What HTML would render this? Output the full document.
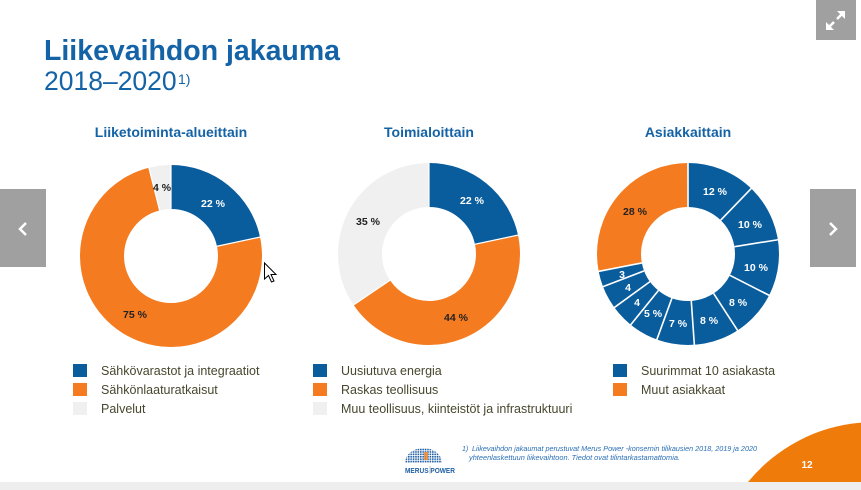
<!DOCTYPE html>
<html><head><meta charset="utf-8"><style>
html,body{margin:0;padding:0;background:#fff;width:861px;height:490px;overflow:hidden;}
svg{display:block;overflow:hidden;font-family:"Liberation Sans",Arial,sans-serif;}
</style></head><body>
<svg width="861" height="490" viewBox="0 0 861 490" xmlns="http://www.w3.org/2000/svg">
<defs>
<pattern id="dots" width="2.4" height="2.4" patternUnits="userSpaceOnUse"><rect width="1.6" height="1.6" fill="#1f5fa3"/></pattern>
<clipPath id="pg"><rect x="0" y="0" width="861" height="490"/></clipPath>
</defs>
<g clip-path="url(#pg)">
<rect width="861" height="490" fill="#fff"/>

<!-- Title -->
<text x="44" y="60" font-size="29" font-weight="bold" fill="#1463a6" textLength="296" lengthAdjust="spacingAndGlyphs">Liikevaihdon jakauma</text>
<text x="44" y="90" font-size="26.5" fill="#1463a6">2018–2020</text>
<text x="178" y="84" font-size="14" fill="#1463a6">1)</text>

<!-- Subtitles -->
<g font-size="14" font-weight="bold" fill="#1463a6" text-anchor="middle">
<text x="171" y="137">Liiketoiminta-alueittain</text>
<text x="429" y="137">Toimialoittain</text>
<text x="688" y="137">Asiakkaittain</text>
</g>

<!-- Left donut -->
<g fill="none" stroke-width="44">
<circle cx="171" cy="256" r="69" pathLength="360" transform="rotate(-90 171 256)" stroke="#0a5d9d" stroke-dasharray="78 360" stroke-dashoffset="0"/>
<circle cx="171" cy="256" r="69" pathLength="360" transform="rotate(-90 171 256)" stroke="#f47b20" stroke-dasharray="268 360" stroke-dashoffset="-78"/>
<circle cx="171" cy="256" r="69" pathLength="360" transform="rotate(-90 171 256)" stroke="#f0f0f0" stroke-dasharray="14 360" stroke-dashoffset="-346"/>
</g>
<g stroke="#fff" stroke-width="1.2">
<line x1="171" y1="209" x2="171" y2="164" transform="rotate(0 171 256)"/>
<line x1="171" y1="209" x2="171" y2="164" transform="rotate(78 171 256)"/>
<line x1="171" y1="209" x2="171" y2="164" transform="rotate(346 171 256)"/>
</g>
<g font-size="10.5" font-weight="bold" text-anchor="middle">
<text x="213" y="207" fill="#fff">22 %</text>
<text x="162" y="191" fill="#222">4 %</text>
<text x="135" y="318" fill="#222">75 %</text>
</g>

<!-- Middle donut -->
<g fill="none" stroke-width="44">
<circle cx="429" cy="254" r="69" pathLength="360" transform="rotate(-90 429 254)" stroke="#0a5d9d" stroke-dasharray="78 360" stroke-dashoffset="0"/>
<circle cx="429" cy="254" r="69" pathLength="360" transform="rotate(-90 429 254)" stroke="#f47b20" stroke-dasharray="158 360" stroke-dashoffset="-78"/>
<circle cx="429" cy="254" r="69" pathLength="360" transform="rotate(-90 429 254)" stroke="#f0f0f0" stroke-dasharray="124 360" stroke-dashoffset="-236"/>
</g>
<g stroke="#fff" stroke-width="1.2">
<line x1="429" y1="207" x2="429" y2="162" transform="rotate(0 429 254)"/>
<line x1="429" y1="207" x2="429" y2="162" transform="rotate(78 429 254)"/>
<line x1="429" y1="207" x2="429" y2="162" transform="rotate(236 429 254)"/>
</g>
<g font-size="10.5" font-weight="bold" text-anchor="middle">
<text x="472" y="204" fill="#fff">22 %</text>
<text x="368" y="225" fill="#222">35 %</text>
<text x="456" y="321" fill="#222">44 %</text>
</g>

<!-- Right donut -->
<g fill="none" stroke-width="44">
<circle cx="688" cy="254" r="69" pathLength="360" transform="rotate(-90 688 254)" stroke="#0a5d9d" stroke-dasharray="259 360" stroke-dashoffset="0"/>
<circle cx="688" cy="254" r="69" pathLength="360" transform="rotate(-90 688 254)" stroke="#f47b20" stroke-dasharray="101 360" stroke-dashoffset="-259"/>
</g>
<g stroke="#fff" stroke-width="1.6">
<line x1="688" y1="207" x2="688" y2="162" transform="rotate(0 688 254)"/>
<line x1="688" y1="207" x2="688" y2="162" transform="rotate(44 688 254)"/>
<line x1="688" y1="207" x2="688" y2="162" transform="rotate(81 688 254)"/>
<line x1="688" y1="207" x2="688" y2="162" transform="rotate(117 688 254)"/>
<line x1="688" y1="207" x2="688" y2="162" transform="rotate(147 688 254)"/>
<line x1="688" y1="207" x2="688" y2="162" transform="rotate(176 688 254)"/>
<line x1="688" y1="207" x2="688" y2="162" transform="rotate(200 688 254)"/>
<line x1="688" y1="207" x2="688" y2="162" transform="rotate(219 688 254)"/>
<line x1="688" y1="207" x2="688" y2="162" transform="rotate(234 688 254)"/>
<line x1="688" y1="207" x2="688" y2="162" transform="rotate(249 688 254)"/>
<line x1="688" y1="207" x2="688" y2="162" transform="rotate(259 688 254)"/>
</g>
<g font-size="10.5" font-weight="bold" text-anchor="middle" fill="#fff">
<text x="715" y="195">12 %</text>
<text x="750" y="228">10 %</text>
<text x="756" y="271">10 %</text>
<text x="738" y="306">8 %</text>
<text x="709" y="324">8 %</text>
<text x="678" y="327">7 %</text>
<text x="653" y="317">5 %</text>
<text x="637" y="306">4</text>
<text x="628" y="291">4</text>
<text x="622" y="278">3</text>
<text x="635" y="215" fill="#222">28 %</text>
</g>

<!-- Legends -->
<g font-size="12.5" fill="#47472f">
<rect x="73" y="364" width="14" height="13" fill="#0a5d9d"/>
<rect x="73" y="383" width="14" height="13" fill="#f47b20"/>
<rect x="73" y="402" width="14" height="13" fill="#f0f0f0"/>
<text x="101" y="375">Sähkövarastot ja integraatiot</text>
<text x="101" y="394">Sähkönlaaturatkaisut</text>
<text x="101" y="413">Palvelut</text>

<rect x="313" y="364" width="14" height="13" fill="#0a5d9d"/>
<rect x="313" y="383" width="14" height="13" fill="#f47b20"/>
<rect x="313" y="402" width="14" height="13" fill="#f0f0f0"/>
<text x="341" y="375">Uusiutuva energia</text>
<text x="341" y="394">Raskas teollisuus</text>
<text x="341" y="413">Muu teollisuus, kiinteistöt ja infrastruktuuri</text>

<rect x="613" y="364" width="14" height="13" fill="#0a5d9d"/>
<rect x="613" y="383" width="14" height="13" fill="#f47b20"/>
<text x="641" y="375">Suurimmat 10 asiakasta</text>
<text x="641" y="394">Muut asiakkaat</text>
</g>

<!-- Orange corner -->
<path d="M748,482 A163.5,163.5 0 0 1 861,422.6 L861,482 Z" fill="#ef7b0b"/>
<text x="807" y="468" font-size="10" font-weight="bold" fill="#fff" text-anchor="middle">12</text>

<!-- Bottom strip -->
<rect x="0" y="482" width="861" height="8" fill="#eeeeee"/>

<!-- Logo -->
<path d="M405,463 A18.5,15 0 0 1 442,463 Z" fill="url(#dots)"/>
<rect x="424" y="452" width="4" height="8" fill="#f08a30" opacity="0.8"/>
<text x="405" y="473" font-size="7.5" font-weight="bold" fill="#1f5fa3" textLength="50" lengthAdjust="spacingAndGlyphs">MERUS POWER</text>
<line x1="430" y1="466" x2="430" y2="474" stroke="#999" stroke-width="0.6"/>

<!-- Footnote -->
<g font-size="7" font-style="italic" fill="#2a6fb5">
<text x="462" y="451">1)</text>
<text x="472" y="451" textLength="285" lengthAdjust="spacingAndGlyphs">Liikevaihdon jakaumat perustuvat Merus Power -konsernin tilikausien 2018, 2019 ja 2020</text>
<text x="469" y="460" textLength="211" lengthAdjust="spacingAndGlyphs">yhteenlaskettuun liikevaihtoon. Tiedot ovat tilintarkastamattomia.</text>
</g>

<!-- Nav boxes -->
<rect x="0" y="189" width="46" height="78" fill="#a0a0a0"/>
<polyline points="26,223 20,229 26,235" fill="none" stroke="#fff" stroke-width="2.5"/>
<rect x="810" y="189" width="46" height="78" fill="#a0a0a0"/>
<polyline points="830,223 836,229 830,235" fill="none" stroke="#fff" stroke-width="2.5"/>
<rect x="816" y="0" width="40" height="40" fill="#a0a0a0"/>
<line x1="829" y1="27" x2="834" y2="22" stroke="#fff" stroke-width="2.6"/>
<line x1="837" y1="19" x2="842" y2="14" stroke="#fff" stroke-width="2.6"/>
<polygon points="826,30 826,22 834,30" fill="#fff"/>
<polygon points="845,11 845,19 837,11" fill="#fff"/>

<!-- Cursor -->
<path d="M264.5,263 L264.5,279 L268.5,275.5 L271.5,282 L274,281 L271,274.5 L276,274.5 Z" fill="#fff" stroke="#000" stroke-width="1"/>
</g>
</svg>
</body></html>
